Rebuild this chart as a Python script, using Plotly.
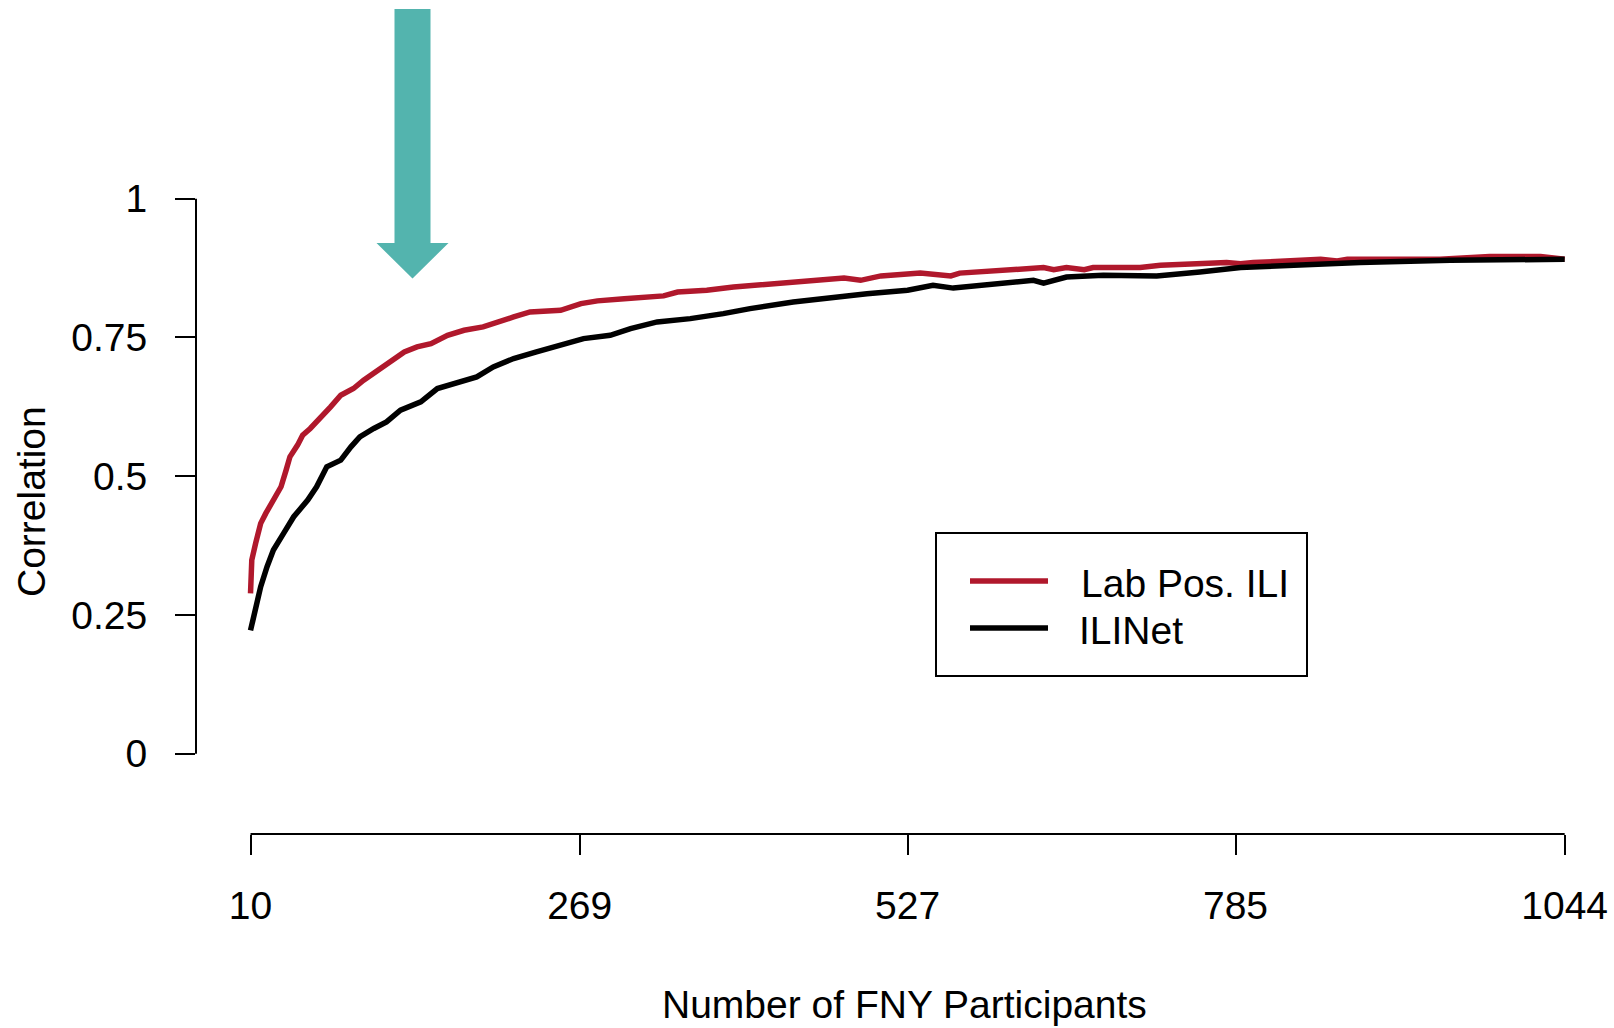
import plotly.graph_objects as go

# --- data ---
lab_pos_x = [10, 11, 14, 18, 22, 28, 34, 38, 41, 47, 51, 57, 65, 73, 81, 91, 99, 110, 120,
             131, 141, 152, 165, 178, 193, 207, 217, 230, 254, 270, 283, 304, 335, 346, 369,
             390, 422, 443, 477, 490, 506, 537, 561, 568, 600, 634, 642, 652, 666, 673, 710,
             726, 778, 789, 799, 852, 865, 873, 946, 985, 1025, 1044]
lab_pos_y = [0.289, 0.349, 0.379, 0.415, 0.433, 0.457, 0.481, 0.511, 0.535, 0.556, 0.574,
             0.586, 0.604, 0.625, 0.646, 0.658, 0.673, 0.691, 0.709, 0.724, 0.733, 0.739,
             0.754, 0.763, 0.769, 0.781, 0.787, 0.796, 0.799, 0.811, 0.816, 0.820, 0.825,
             0.832, 0.835, 0.841, 0.847, 0.852, 0.857, 0.853, 0.861, 0.866, 0.861, 0.866,
             0.870, 0.876, 0.872, 0.876, 0.872, 0.876, 0.876, 0.880, 0.885, 0.883, 0.885,
             0.891, 0.888, 0.891, 0.891, 0.896, 0.896, 0.891]

ilinet_x = [10, 14, 18, 23, 28, 36, 44, 55, 62, 70, 81, 89, 96, 107, 117, 128, 144, 157, 173,
            188, 201, 217, 235, 256, 272, 293, 309, 330, 356, 382, 403, 437, 469, 495, 527,
            547, 563, 589, 626, 634, 652, 681, 723, 757, 789, 831, 883, 954, 1027, 1044]
ilinet_y = [0.222, 0.264, 0.301, 0.337, 0.367, 0.397, 0.427, 0.457, 0.481, 0.517, 0.529,
            0.553, 0.571, 0.586, 0.598, 0.619, 0.634, 0.658, 0.670, 0.679, 0.697, 0.712,
            0.724, 0.739, 0.748, 0.754, 0.766, 0.778, 0.784, 0.793, 0.802, 0.814, 0.823,
            0.829, 0.835, 0.844, 0.839, 0.844, 0.853, 0.848, 0.859, 0.862, 0.861, 0.868,
            0.876, 0.880, 0.885, 0.889, 0.891, 0.891]

x_ticks = [10, 269, 527, 785, 1044]
y_ticks = [0, 0.25, 0.5, 0.75, 1]
y_tick_text = ["0", "0.25", "0.5", "0.75", "1"]

series_names = ["Lab Pos. ILI", "ILINet"]
RED = "#B0182C"
BLACK = "#000000"
TEAL = "#53B4AE"
FONT = "Liberation Sans, Arial, sans-serif"

W, H = 1614, 1028
ML, MR, MT, MB = 196, 14, 0, 194


def px(x):
    # pixel x -> paper
    return (x - ML) / (W - ML - MR)


def py(y):
    # pixel y -> paper
    return (H - MB - y) / (H - MT - MB)


fig = go.Figure()
fig.add_trace(go.Scatter(x=lab_pos_x, y=lab_pos_y, mode="lines", name=series_names[0],
                         line=dict(color=RED, width=5.5), showlegend=False))
fig.add_trace(go.Scatter(x=ilinet_x, y=ilinet_y, mode="lines", name=series_names[1],
                         line=dict(color=BLACK, width=5.5), showlegend=False))

shapes = [
    # axis lines spanning only the tick range, as in base R
    dict(type="line", xref="x", yref="paper", x0=x_ticks[0], x1=x_ticks[-1], y0=0, y1=0,
         line=dict(color="black", width=2)),
    dict(type="line", xref="paper", yref="y", x0=0, x1=0, y0=y_ticks[0], y1=y_ticks[-1],
         line=dict(color="black", width=2)),
    # legend box
    dict(type="rect", xref="paper", yref="paper", x0=px(936), x1=px(1307),
         y0=py(676), y1=py(533), line=dict(color="black", width=2), fillcolor="white"),
    dict(type="line", xref="paper", yref="paper", x0=px(970), x1=px(1048),
         y0=py(581), y1=py(581), line=dict(color=RED, width=5.5)),
    dict(type="line", xref="paper", yref="paper", x0=px(970), x1=px(1048),
         y0=py(628), y1=py(628), line=dict(color=BLACK, width=5.5)),
    # teal arrow
    dict(type="path", xref="paper", yref="paper", fillcolor=TEAL, line=dict(width=0),
         path=(f"M{px(394.5)},{py(9)} L{px(430.5)},{py(9)} L{px(430.5)},{py(243)} "
               f"L{px(448.5)},{py(243)} L{px(412.5)},{py(278.5)} L{px(376.5)},{py(243)} "
               f"L{px(394.5)},{py(243)} Z")),
]

annotations = [
    dict(text=series_names[0], xref="paper", yref="paper", x=px(1079), y=py(583),
         xanchor="left", yanchor="middle", showarrow=False, font=dict(size=39, color="black")),
    dict(text=series_names[1], xref="paper", yref="paper", x=px(1077), y=py(630),
         xanchor="left", yanchor="middle", showarrow=False, font=dict(size=39, color="black")),
    dict(text="Number of FNY Participants", xref="paper", yref="paper", x=px(904), y=py(1004),
         xanchor="center", yanchor="middle", showarrow=False, font=dict(size=39, color="black")),
    dict(text="Correlation", xref="paper", yref="paper", x=px(31), y=py(502), textangle=-90,
         xanchor="center", yanchor="middle", showarrow=False, font=dict(size=39, color="black")),
]

fig.update_layout(
    width=W,
    height=H,
    margin=dict(l=ML, r=MR, t=MT, b=MB),
    paper_bgcolor="white",
    plot_bgcolor="white",
    font=dict(family=FONT, size=39, color="black"),
    shapes=shapes,
    annotations=annotations,
    showlegend=False,
    xaxis=dict(
        range=[-32.9, 1071.8],
        tickvals=x_ticks,
        ticktext=[str(v) for v in x_ticks],
        ticks="outside", ticklen=20, tickwidth=2, tickcolor="black",
        ticklabelstandoff=17,
        showgrid=False, zeroline=False, showline=False,
    ),
    yaxis=dict(
        range=[-0.1448, 1.3582],
        tickvals=y_ticks,
        ticktext=y_tick_text,
        ticks="outside", ticklen=20, tickwidth=2, tickcolor="black",
        ticklabelstandoff=20,
        showgrid=False, zeroline=False, showline=False,
    ),
)

fig.write_html("out.html", config={"displayModeBar": False},
               post_script="document.body.style.margin='0';")
